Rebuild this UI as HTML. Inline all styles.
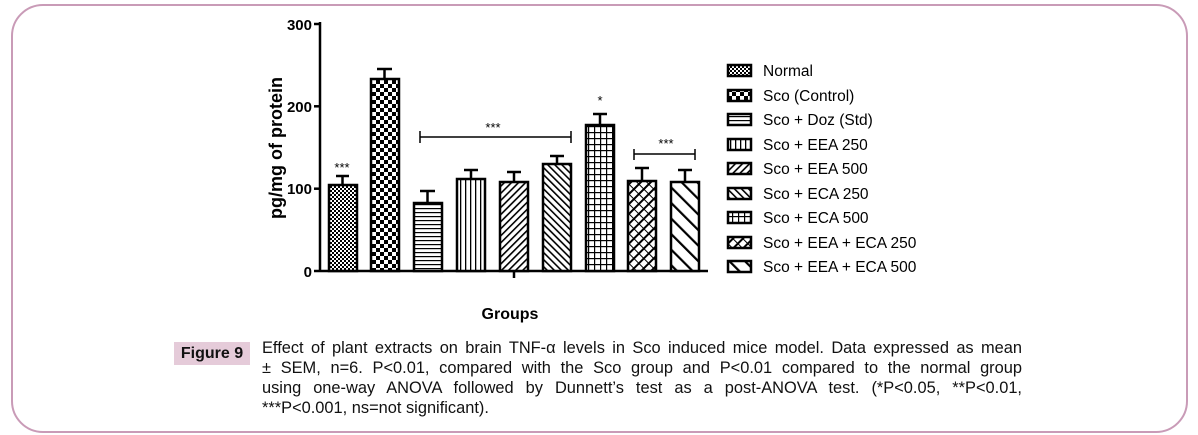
<!DOCTYPE html>
<html><head><meta charset="utf-8"><style>
body{margin:0;width:1198px;height:435px;background:#fff;position:relative;overflow:hidden;font-family:"Liberation Sans",sans-serif}
.box{position:absolute;left:11px;top:4px;width:1173px;height:425px;border:2px solid #c99bb7;border-radius:32px}
.fig{position:absolute;left:174px;top:342px;width:76px;height:23px;background:#e5cbd9;font-weight:bold;font-size:16px;line-height:23px;text-align:center;color:#111}
.cap{position:absolute;left:262px;top:338px;width:760px;font-size:16.4px;line-height:20px;color:#111}
.cap div{white-space:nowrap;text-align:justify;text-align-last:justify}
.cap div.l{text-align-last:left}
</style></head><body>
<div class="box"></div>
<svg width="1198" height="435" style="position:absolute;left:0;top:0">
<defs>
<pattern id="p1" width="4" height="4" patternUnits="userSpaceOnUse"><rect width="4" height="4" fill="#fff"/><rect width="2" height="2" fill="#000"/><rect x="2" y="2" width="2" height="2" fill="#000"/></pattern>
<pattern id="p2" width="8" height="8" patternUnits="userSpaceOnUse"><rect width="8" height="8" fill="#fff"/><rect width="4" height="4" fill="#000"/><rect x="4" y="4" width="4" height="4" fill="#000"/></pattern>
<pattern id="p3" width="6" height="4" patternUnits="userSpaceOnUse"><rect width="6" height="4" fill="#fff"/><rect width="6" height="1.2" fill="#000"/></pattern>
<pattern id="p4" width="5" height="6" patternUnits="userSpaceOnUse"><rect width="5" height="6" fill="#fff"/><rect width="1.3" height="6" fill="#000"/></pattern>
<pattern id="p5" width="5" height="5" patternUnits="userSpaceOnUse" patternTransform="rotate(45)"><rect width="5" height="5" fill="#fff"/><rect width="1.6" height="5" fill="#000"/></pattern>
<pattern id="p6" width="5" height="5" patternUnits="userSpaceOnUse" patternTransform="rotate(-45)"><rect width="5" height="5" fill="#fff"/><rect width="1.6" height="5" fill="#000"/></pattern>
<pattern id="p7" width="6" height="6" patternUnits="userSpaceOnUse"><rect width="6" height="6" fill="#fff"/><rect width="6" height="1.2" fill="#000"/><rect width="1.2" height="6" fill="#000"/></pattern>
<pattern id="p8" width="7" height="7" patternUnits="userSpaceOnUse" patternTransform="rotate(45)"><rect width="7" height="7" fill="#fff"/><rect width="2" height="7" fill="#000"/><rect width="7" height="1" fill="#000"/></pattern>
<pattern id="p9" width="11" height="11" patternUnits="userSpaceOnUse" patternTransform="rotate(-45)"><rect width="11" height="11" fill="#fff"/><rect width="2.2" height="11" fill="#000"/></pattern>
</defs>
<g stroke="#000" stroke-width="2.5" fill="none">
<line x1="320" y1="22" x2="320" y2="272"/>
<line x1="314" y1="271" x2="708" y2="271"/>
<line x1="314" y1="24" x2="320" y2="24"/><line x1="314" y1="106.3" x2="320" y2="106.3"/><line x1="314" y1="188.7" x2="320" y2="188.7"/>
<line x1="514" y1="271" x2="514" y2="278"/>
</g>
<g font-weight="bold" font-size="15" text-anchor="end" fill="#000">
<text x="312" y="30">300</text><text x="312" y="112">200</text><text x="312" y="194">100</text><text x="312" y="277">0</text>
</g>
<text transform="translate(282,148) rotate(-90)" text-anchor="middle" font-weight="bold" font-size="18">pg/mg of protein</text>
<text x="510" y="319" text-anchor="middle" font-weight="bold" font-size="16">Groups</text>
<g stroke="#000" stroke-width="2.5">
<line x1="342.5" y1="176" x2="342.5" y2="185"/><line x1="336" y1="176" x2="349" y2="176"/>
<rect x="329" y="185" width="28" height="86" fill="url(#p1)"/>
<line x1="384.5" y1="69" x2="384.5" y2="79"/><line x1="377" y1="69" x2="392" y2="69"/>
<rect x="371" y="79" width="28" height="192" fill="url(#p2)"/>
<line x1="427.5" y1="191" x2="427.5" y2="203"/><line x1="420" y1="191" x2="435" y2="191"/>
<rect x="414" y="203" width="28" height="68" fill="url(#p3)"/>
<line x1="471" y1="170" x2="471" y2="179"/><line x1="464" y1="170" x2="478" y2="170"/>
<rect x="457" y="179" width="28" height="92" fill="url(#p4)"/>
<line x1="514" y1="172" x2="514" y2="182"/><line x1="507" y1="172" x2="521" y2="172"/>
<rect x="500" y="182" width="28" height="89" fill="url(#p5)"/>
<line x1="557" y1="156" x2="557" y2="164"/><line x1="550" y1="156" x2="564" y2="156"/>
<rect x="543" y="164" width="28" height="107" fill="url(#p6)"/>
<line x1="600" y1="114" x2="600" y2="125"/><line x1="593" y1="114" x2="607" y2="114"/>
<rect x="586" y="125" width="28" height="146" fill="url(#p7)"/>
<line x1="642" y1="168" x2="642" y2="181"/><line x1="635" y1="168" x2="649" y2="168"/>
<rect x="628" y="181" width="28" height="90" fill="url(#p8)"/>
<line x1="685" y1="170" x2="685" y2="182"/><line x1="678" y1="170" x2="692" y2="170"/>
<rect x="671" y="182" width="28" height="89" fill="url(#p9)"/>
</g>
<g stroke="#000" stroke-width="1.5">
<line x1="420" y1="137" x2="571" y2="137"/><line x1="420" y1="131" x2="420" y2="143"/><line x1="571" y1="131" x2="571" y2="143"/>
<line x1="634" y1="154" x2="695" y2="154"/><line x1="634" y1="149" x2="634" y2="160"/><line x1="695" y1="149" x2="695" y2="160"/>
</g>
<g font-size="13" text-anchor="middle">
<text x="342" y="172">***</text><text x="493" y="132">***</text><text x="600" y="105">*</text><text x="666" y="148">***</text>
</g>
<g stroke="#000" stroke-width="2.5">
<rect x="728" y="65" width="23" height="11" fill="url(#p1)"/>
<rect x="728" y="90" width="23" height="11" fill="url(#p2)"/>
<rect x="728" y="114" width="23" height="11" fill="url(#p3)"/>
<rect x="728" y="139" width="23" height="11" fill="url(#p4)"/>
<rect x="728" y="163" width="23" height="11" fill="url(#p5)"/>
<rect x="728" y="188" width="23" height="11" fill="url(#p6)"/>
<rect x="728" y="212" width="23" height="11" fill="url(#p7)"/>
<rect x="728" y="237" width="23" height="11" fill="url(#p8)"/>
<rect x="728" y="261" width="23" height="11" fill="url(#p9)"/>
</g>
<g font-size="15.5">
<text x="763" y="76">Normal</text>
<text x="763" y="101">Sco (Control)</text>
<text x="763" y="125">Sco + Doz (Std)</text>
<text x="763" y="150">Sco + EEA 250</text>
<text x="763" y="174">Sco + EEA 500</text>
<text x="763" y="199">Sco + ECA 250</text>
<text x="763" y="223">Sco + ECA 500</text>
<text x="763" y="248">Sco + EEA + ECA 250</text>
<text x="763" y="272">Sco + EEA + ECA 500</text>
</g>
</svg>
<div class="fig">Figure 9</div>
<div class="cap">
<div>Effect of plant extracts on brain TNF-α levels in Sco induced mice model. Data expressed as mean</div>
<div>± SEM, n=6. P&lt;0.01, compared with the Sco group and P&lt;0.01 compared to the normal group</div>
<div>using one-way ANOVA followed by Dunnett’s test as a post-ANOVA test. (*P&lt;0.05, **P&lt;0.01,</div>
<div class="l">***P&lt;0.001, ns=not significant).</div>
</div>
</body></html>
